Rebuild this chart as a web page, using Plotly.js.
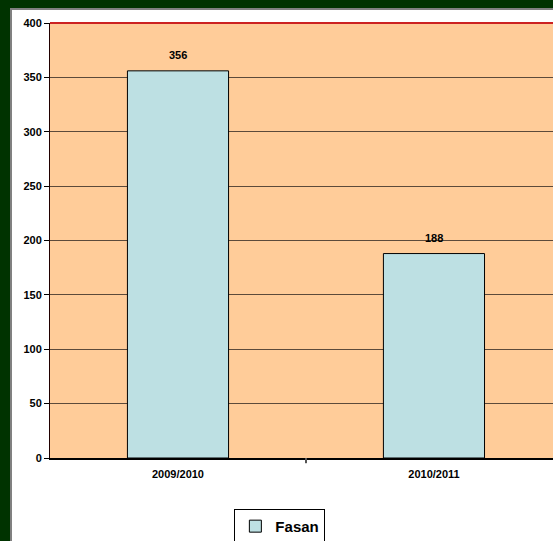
<!DOCTYPE html>
<html><head><meta charset="utf-8">
<script src="https://cdn.plot.ly/plotly-3.0.1.min.js"></script>
<style>
html,body{margin:0;padding:0;background:#003300;width:553px;height:541px;overflow:hidden;}
#frame{position:absolute;left:10px;top:8px;width:543px;height:533px;background:#808080;}
#chart{position:absolute;left:12px;top:10px;width:541px;height:531px;background:#fff;}
</style></head>
<body>
<div id="frame"></div>
<div id="chart"></div>
<script>
const categories = ["2009/2010", "2010/2011"];
const values = [356, 188];
const seriesName = "Fasan";
const yTicks = [0, 50, 100, 150, 200, 250, 300, 350, 400];

const font = {family: "Liberation Sans, Arial, sans-serif", color: "#000"};

const trace = {
  type: "bar",
  x: categories,
  y: values,
  name: seriesName,
  width: 0.395,
  marker: {color: "#BDE0E3", line: {color: "#000", width: 1}},
  showlegend: true,
  hoverinfo: "none"
};

const annotations = categories.map((c, i) => ({
  x: c, y: values[i], xref: "x", yref: "y",
  text: "<b>" + values[i] + "</b>", showarrow: false,
  yanchor: "bottom", yshift: 8,
  font: Object.assign({}, font, {size: 11})
}));

const layout = {
  width: 541, height: 531,
  margin: {l: 38, r: 0, t: 13, b: 83, pad: 0, autoexpand: false},
  paper_bgcolor: "#ffffff",
  plot_bgcolor: "#FFCC99",
  font: font,
  bargap: 0,
  xaxis: {
    type: "category",
    range: [-0.5, 1.465],
    showgrid: false,
    showline: true, linecolor: "#000", linewidth: 2,
    ticks: "", ticklabelstandoff: 5,
    tickfont: Object.assign({}, font, {size: 11, weight: "bold"}),
    zeroline: false, fixedrange: true, automargin: false
  },
  yaxis: {
    range: [0, 400],
    tickvals: yTicks,
    ticktext: yTicks.map(String),
    showgrid: true, gridcolor: "#5c4a3a", gridwidth: 1,
    showline: true, linecolor: "#200000", linewidth: 1,
    ticks: "outside", ticklen: 5, tickcolor: "#000",
    tickfont: Object.assign({}, font, {size: 11, weight: "bold"}),
    zeroline: false, fixedrange: true, automargin: false
  },
  showlegend: true,
  legend: {
    orientation: "h",
    x: 0.457, xanchor: "center",
    y: -0.117, yanchor: "top",
    bgcolor: "#fff", bordercolor: "#000", borderwidth: 1,
    font: Object.assign({}, font, {size: 15, weight: "bold"}),
    itemwidth: 30
  },
  shapes: [
    {type: "line", xref: "paper", yref: "paper", x0: 0, x1: 1, y0: 1, y1: 1,
     line: {color: "#CC2222", width: 2}},
    {type: "line", xref: "x", yref: "paper", x0: 0.5, x1: 0.5, y0: 0, y1: -0.012,
     line: {color: "#555", width: 2}}
  ],
  annotations: annotations
};

Plotly.newPlot("chart", [trace], layout, {staticPlot: true, displayModeBar: false});
</script>
</body></html>
